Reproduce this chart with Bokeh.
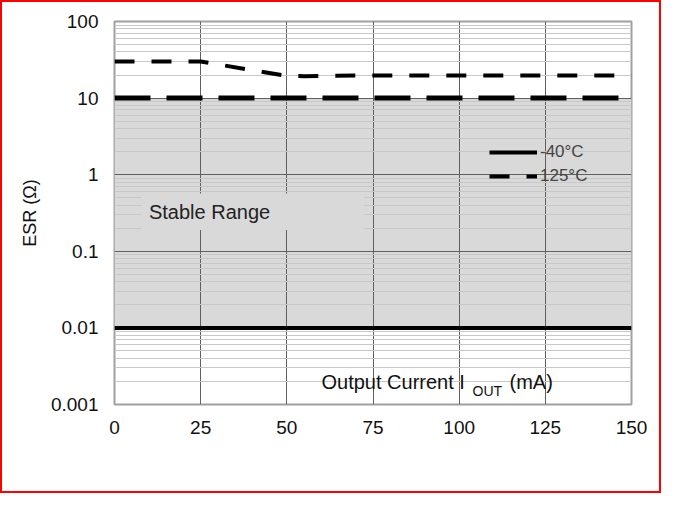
from bokeh.plotting import figure
from bokeh.models import FixedTicker, Label, Legend, LegendItem, Range1d
from bokeh.embed import file_html
from bokeh.resources import INLINE

# data
x_cold = [0, 150]
esr_cold_low = [0.01, 0.01]
esr_cold_high = [10, 10]
x_hot = [0, 25, 50, 55, 75, 100, 125, 150]
esr_hot_high = [30, 30, 19.5, 19.3, 19.8, 19.8, 19.8, 19.8]
x_ticks = [0, 25, 50, 75, 100, 125, 150]
y_ticks = [0.001, 0.01, 0.1, 1, 10, 100]
y_labels = ["0.001", "0.01", "0.1", "1", "10", "100"]
minor = [m * 10.0 ** e for e in range(-3, 2) for m in range(2, 10)]

FONT = "Liberation Sans"

p = figure(width=661, height=493, y_axis_type="log", output_backend="svg",
           toolbar_location=None, x_range=Range1d(0, 150), y_range=Range1d(0.001, 100),
           min_border_left=112, min_border_top=19, min_border_right=32, min_border_bottom=91)
p.styles = {"border": "2px solid red"}
p.outline_line_color = "#a0a0a0"
p.outline_line_width = 2

p.xaxis.ticker = FixedTicker(ticks=x_ticks)
p.yaxis.ticker = FixedTicker(ticks=y_ticks, minor_ticks=minor)
p.yaxis.major_label_overrides = {t: l for t, l in zip(y_ticks, y_labels)}
for ax in (p.xaxis[0], p.yaxis[0]):
    ax.axis_line_color = None
    ax.major_tick_line_color = None
    ax.minor_tick_line_color = None
    ax.major_label_text_font = FONT
    ax.major_label_text_font_size = "19px"
    ax.major_label_text_color = "#111111"
    ax.major_label_standoff = 10
p.yaxis.axis_label = "ESR (Ω)"
p.yaxis.axis_label_text_font = FONT
p.yaxis.axis_label_text_font_size = "18px"
p.yaxis.axis_label_text_font_style = "normal"
p.yaxis.axis_label_text_color = "#111111"
p.yaxis.axis_label_standoff = 8

p.xgrid.grid_line_color = "#606060"
p.ygrid.grid_line_color = "#606060"
p.ygrid.minor_grid_line_color = "#c8c8c8"

# stable region shading
p.varea(x=x_cold, y1=esr_cold_low, y2=esr_cold_high, fill_color="#d9d9d9", level="underlay")
# label box
p.quad(left=[7.8], right=[72.5], bottom=[0.19], top=[0.57], fill_color="#d9d9d9", line_color=None)
p.add_layout(Label(x=10, y=0.33, text="Stable Range", text_font=FONT, text_font_size="20px",
                   text_baseline="middle", text_color="#222222"))

c1 = p.line(x_cold, esr_cold_low, line_width=4, color="black")
p.line(x_cold, esr_cold_high, line_width=5, color="black", line_dash="36 16")
c2 = p.line(x_hot, esr_hot_high, line_width=4, color="black", line_dash="20 17")

leg = Legend(items=[LegendItem(label="-40°C", renderers=[c1]), LegendItem(label="125°C", renderers=[c2])],
             location=(375, 218), background_fill_alpha=0, border_line_color=None,
             label_text_font=FONT, label_text_font_size="17px", glyph_width=48, spacing=4,
             label_standoff=3)
p.add_layout(leg, "center")

p.add_layout(Label(x=207, y=12, x_units="screen", y_units="screen", text="Output Current I",
                   text_font=FONT, text_font_size="20px", text_color="#111111"))
p.add_layout(Label(x=358, y=6, x_units="screen", y_units="screen", text="OUT",
                   text_font=FONT, text_font_size="14px", text_color="#111111"))
p.add_layout(Label(x=395, y=12, x_units="screen", y_units="screen", text="(mA)",
                   text_font=FONT, text_font_size="20px", text_color="#111111"))

open("out.html", "w").write(file_html(p, INLINE))
